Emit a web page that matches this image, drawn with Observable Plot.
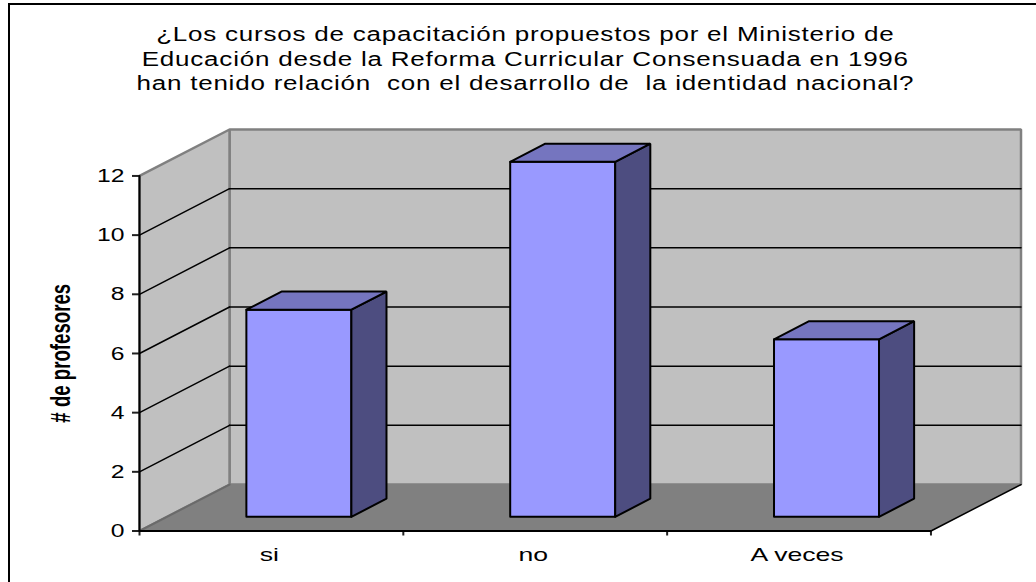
<!DOCTYPE html>
<html lang="es">
<head>
<meta charset="utf-8">
<script src="https://cdn.jsdelivr.net/npm/d3@7"></script>
<script src="https://cdn.jsdelivr.net/npm/@observablehq/plot@0.6"></script>
<style>
  html, body { margin: 0; padding: 0; background: #fff; }
  body { position: relative; width: 1036px; height: 582px; overflow: hidden; }
  #frame { position: absolute; left: 8px; top: 3px; right: -10px; bottom: -10px;
           border: 2px solid #000; pointer-events: none; }
  #title { position: relative; height: 100px; box-sizing: border-box; padding: 22px 0 0 0;
           text-align: center; font: 20px/24.5px "Liberation Sans", Arial, sans-serif;
           letter-spacing: 0.6px; color: #000; white-space: pre;
           transform: translateX(10px) scaleX(1.3); transform-origin: 527px 0; }
  svg { display: block; }
</style>
</head>
<body>
<div id="frame"></div>
<div id="title"></div>
<div id="chart"></div>
<script>
const titleLines = [
  "¿Los cursos de capacitación propuestos por el Ministerio de",
  "Educación desde la Reforma Curricular Consensuada en 1996",
  "han tenido relación  con el desarrollo de  la identidad nacional?"
];
const categories = ["si", "no", "A veces"];
const values = [7, 12, 6];
const yTicks = [0, 2, 4, 6, 8, 10, 12];
const yLabel = "# de profesores";

// Oblique projection expressed in data units
const depthX = 0.3413, depthY = 1.57;
const yTop = 12;
const xEnd = categories.length;
const P = (x, y, d = 0) => ({x: x + d * depthX, y: y + d * depthY});
const poly = (pts, fill, stroke, strokeWidth) =>
  Plot.line([...pts, pts[0]], {x: "x", y: "y", fill, stroke, strokeWidth, strokeLinejoin: "miter", curve: "linear"});
const seg = (a, b, stroke, strokeWidth) =>
  Plot.line([a, b], {x: "x", y: "y", stroke, strokeWidth, curve: "linear"});

const gridV = yTicks.filter(v => v > 0 && v < yTop);
const barFront = 0.305, barBack = 0.695, gap = 0.301, barW = 0.398;

const barMarks = categories.flatMap((c, i) => {
  const x0 = i + gap, x1 = x0 + barW, v = values[i];
  return [
    poly([P(x0, 0, barFront), P(x1, 0, barFront), P(x1, v, barFront), P(x0, v, barFront)], "#9999ff", "#000", 2),
    poly([P(x1, 0, barFront), P(x1, 0, barBack), P(x1, v, barBack), P(x1, v, barFront)], "#4d4d80", "#000", 2),
    poly([P(x0, v, barFront), P(x1, v, barFront), P(x1, v, barBack), P(x0, v, barBack)], "#7575bf", "#000", 2)
  ];
});

const chart = Plot.plot({
  width: 1036,
  height: 482,
  marginLeft: 139,
  marginRight: 15.5,
  marginTop: 29,
  marginBottom: 51.5,
  x: {type: "linear", domain: [0, xEnd + depthX]},
  y: {type: "linear", domain: [0, yTop + depthY]},
  style: {background: "transparent", overflow: "visible"},
  marks: [
    // back wall and side wall
    poly([P(0, 0, 1), P(xEnd, 0, 1), P(xEnd, yTop, 1), P(0, yTop, 1)], "#c0c0c0", "#808080", 2.5),
    poly([P(0, 0), P(0, 0, 1), P(0, yTop, 1), P(0, yTop)], "#c0c0c0", "#808080", 2.5),
    // floor
    poly([P(0, 0), P(xEnd, 0), P(xEnd, 0, 1), P(0, 0, 1)], "#808080", "none", 0),
    seg(P(0, 0), P(0, 0, 1), "#6a6a6a", 2),
    seg(P(xEnd, 0), P(xEnd, 0, 1), "#000", 1.5),
    // gridlines on both walls
    ...gridV.flatMap(v => [
      seg(P(0, v), P(0, v, 1), "#000", 1.5),
      seg(P(0, v, 1), P(xEnd, v, 1), "#000", 1.5)
    ]),
    // axes
    Plot.axisY(yTicks, {
      anchor: "left", label: null, tickSize: 7, tickPadding: 8, strokeWidth: 2, stroke: "#222",
      fontSize: 19, fontFamily: "Liberation Sans", fill: "#000"
    }),
    Plot.axisX([0, 1, 2, 3], {
      anchor: "bottom", label: null, tickSize: 5, strokeWidth: 2, stroke: "#222", text: () => ""
    }),
    Plot.axisX(categories.map((c, i) => i + 0.5), {
      anchor: "bottom", label: null, tickSize: 0, tickPadding: 17, dx: -2,
      tickFormat: d => categories[Math.floor(d)],
      fontSize: 19, fontFamily: "Liberation Sans", fill: "#000"
    }),
    seg(P(0, 0), P(0, yTop), "#000", 2),
    seg(P(0, 0), P(xEnd, 0), "#000", 2),
    ...barMarks,
    // y-axis title
    Plot.text([yLabel], {
      frameAnchor: "left", textAnchor: "middle", dx: -78, dy: 23, rotate: -90, text: d => d,
      fontSize: 28, fontWeight: "bold", fontFamily: "Liberation Sans", fill: "#000"
    })
  ]
});
// The reference's lettering is anamorphically stretched: widen tick labels, condense the y title.
d3.select(chart).selectAll("text").each(function () {
  const s = this.textContent;
  const t = this.getAttribute("transform") || "";
  const k = s.includes(yLabel) ? 0.666 : categories.some(c => s.includes(c)) ? 1.4 : 1.3;
  this.setAttribute("transform", t + ` scale(${k},1)`);
});
document.getElementById("chart").appendChild(chart);
document.getElementById("title").textContent = titleLines.join("\n");
</script>
</body>
</html>
